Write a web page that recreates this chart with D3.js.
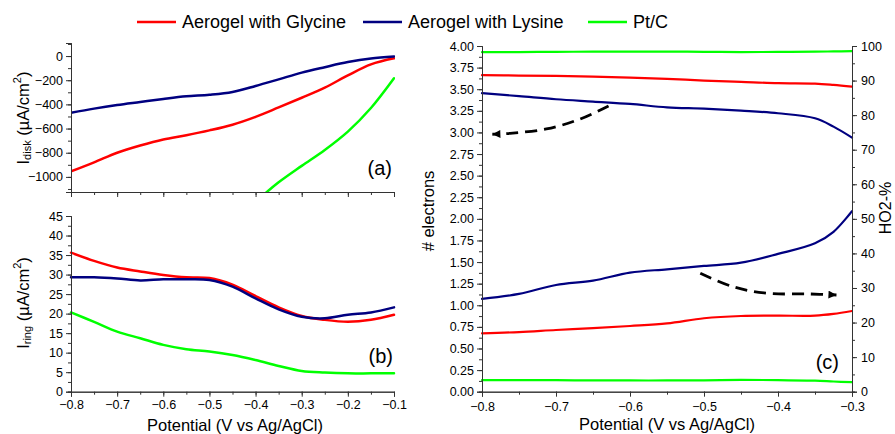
<!DOCTYPE html>
<html><head><meta charset="utf-8">
<script src="https://cdn.jsdelivr.net/npm/d3@7"></script>
<style>
html,body{margin:0;padding:0;background:#fff;}
svg text{font-family:"Liberation Sans",Arial,sans-serif;fill:#000;}
.axis path,.axis line{stroke:#333;stroke-width:1;}
.axis text{font-size:12.5px;font-family:"Liberation Sans",Arial,sans-serif;fill:#000;}
</style></head>
<body>
<svg id="chart" width="895" height="434"></svg>
<script>
// ---------- DATA ----------
const seriesNames = ["Aerogel with Glycine", "Aerogel with Lysine", "Pt/C"];
const seriesColors = ["#ff0000", "#000080", "#00ff00"];

// Panel (a): disk current (µA/cm²)
const potentialA = [-0.8,-0.75,-0.7,-0.65,-0.6,-0.55,-0.5,-0.45,-0.4,-0.35,-0.3,-0.25,-0.2,-0.15,-0.1];
const diskGlycine = [-955,-880,-800,-740,-690,-655,-615,-568,-503,-425,-345,-262,-160,-69,-19];
const diskLysine  = [-470,-435,-405,-380,-355,-333,-320,-297,-248,-193,-137,-92,-50,-20,-3];
const potentialAPt = [-0.38,-0.35,-0.3,-0.25,-0.2,-0.15,-0.1];
const diskPtC     = [-1140,-1045,-909,-777,-625,-430,-184];
const diskTicks = [0,-200,-400,-600,-800,-1000];

// Panel (b): ring current (µA/cm²)
const potentialB = [-0.8,-0.75,-0.7,-0.65,-0.6,-0.55,-0.5,-0.45,-0.4,-0.35,-0.3,-0.25,-0.2,-0.15,-0.1];
const ringGlycine = [35.6,33.5,31.8,30.8,29.9,29.3,29.1,27.4,24.5,21.6,19.4,18.4,17.9,18.4,19.7];
const ringLysine  = [29.3,29.3,29.0,28.5,28.8,28.8,28.6,26.9,23.9,21.1,19.2,18.8,19.7,20.3,21.6];
const ringPtC     = [20.3,17.9,15.4,13.7,12.0,10.9,10.3,9.4,8.1,6.6,5.3,4.9,4.7,4.7,4.7];
const ringTicks = [0,5,10,15,20,25,30,35,40,45];
const potentialTicksAB = [-0.8,-0.7,-0.6,-0.5,-0.4,-0.3,-0.2,-0.1];

// Panel (c): number of electrons (top) and HO2- % (bottom)
const potentialC = [-0.8,-0.75,-0.7,-0.65,-0.6,-0.55,-0.5,-0.45,-0.4,-0.35,-0.325,-0.3];
const nGlycine = [3.662,3.658,3.654,3.645,3.635,3.62,3.60,3.585,3.57,3.565,3.55,3.53];
const nLysine  = [3.454,3.42,3.384,3.357,3.33,3.29,3.275,3.252,3.222,3.164,3.067,2.94];
const nPtC     = [3.928,3.93,3.932,3.935,3.935,3.935,3.933,3.93,3.932,3.935,3.937,3.94];
const hGlycine = [0.676,0.69,0.714,0.735,0.76,0.79,0.85,0.876,0.88,0.88,0.9,0.934];
const hLysine  = [1.073,1.131,1.235,1.285,1.378,1.416,1.455,1.493,1.594,1.717,1.85,2.09];
const hPtC     = [0.135,0.134,0.133,0.131,0.13,0.13,0.132,0.136,0.135,0.127,0.118,0.11];
const electronTicks = [0,0.25,0.5,0.75,1,1.25,1.5,1.75,2,2.25,2.5,2.75,3,3.25,3.5,3.75,4];
const ho2Ticks = [0,10,20,30,40,50,60,70,80,90,100];
const potentialTicksC = [-0.8,-0.7,-0.6,-0.5,-0.4,-0.3];

// Dashed annotation arrows in panel (c) (data coordinates)
const arrowLeft  = [[-0.629,3.307],[-0.668,3.153],[-0.713,3.04],[-0.762,2.99],[-0.786,2.979]];
const arrowRight = [[-0.505,1.370],[-0.461,1.215],[-0.415,1.139],[-0.357,1.131],[-0.321,1.119]];

// ---------- DRAW ----------
const svg = d3.select("#chart");
const fmtDec = d3.format(".1f");
const titleSize = "16.5px";

function minorTicks(a, b, step) {
  const out = [];
  for (let v = a; v <= b + 1e-9; v += step) out.push(+v.toFixed(4));
  return out;
}

function drawLine(g, xs, ys, x, y, color, width) {
  const pts = xs.map((v, i) => [v, ys[i]]);
  g.append("path").datum(pts)
    .attr("fill", "none").attr("stroke", color).attr("stroke-width", width)
    .attr("stroke-linejoin", "round").attr("stroke-linecap", "round")
    .attr("d", d3.line().x(d => x(d[0])).y(d => y(d[1])).curve(d3.curveCatmullRom.alpha(0.5)));
}

function yLabel(g, cx, cy, sub) {
  const t = g.append("text").attr("transform", `translate(${cx},${cy}) rotate(-90)`)
    .attr("text-anchor", "middle").attr("dominant-baseline", "central").style("font-size", titleSize);
  t.append("tspan").text("I");
  t.append("tspan").attr("dy", 4).style("font-size", "11px").text(sub);
  t.append("tspan").attr("dy", -4).text(" (µA/cm");
  t.append("tspan").attr("dy", -6).style("font-size", "11px").text("2");
  t.append("tspan").attr("dy", 6).text(")");
}

// x scale for left panels
const xAB = d3.scaleLinear().domain([-0.8, -0.1]).range([71, 394]);

// ---- Panel (a)
const yA = d3.scaleLinear().domain([-1125, 108]).range([192, 43]);
const gA = svg.append("g");
gA.append("clipPath").attr("id", "clipA").append("rect")
  .attr("x", 71).attr("y", 43).attr("width", 324).attr("height", 149);
const linesA = gA.append("g").attr("clip-path", "url(#clipA)");
drawLine(linesA, potentialA, diskGlycine, xAB, yA, seriesColors[0], 2.5);
drawLine(linesA, potentialA, diskLysine, xAB, yA, seriesColors[1], 2.5);
drawLine(linesA, potentialAPt, diskPtC, xAB, yA, seriesColors[2], 2.5);

gA.append("g").attr("class", "axis").attr("transform", "translate(71,0)")
  .call(d3.axisLeft(yA).tickValues(minorTicks(-1100, 100, 100)).tickSize(3).tickFormat(""));
gA.append("g").attr("class", "axis").attr("transform", "translate(71,0)")
  .call(d3.axisLeft(yA).tickValues(diskTicks).tickSize(5).tickPadding(3).tickFormat(d3.format("d")));
gA.append("g").attr("class", "axis").attr("transform", "translate(0,192)")
  .call(d3.axisBottom(xAB).tickValues(minorTicks(-0.8, -0.1, 0.05)).tickSize(3).tickFormat(""));
gA.append("g").attr("class", "axis").attr("transform", "translate(0,192)")
  .call(d3.axisBottom(xAB).tickValues(potentialTicksAB).tickSize(5).tickFormat(""));

yLabel(gA, 23, 118, "disk");
gA.append("text").attr("x", 392).attr("y", 175).attr("text-anchor", "end")
  .style("font-size", "20px").text("(a)");

// ---- Panel (b)
const yB = d3.scaleLinear().domain([0, 45]).range([391.7, 216]);
const gB = svg.append("g");
drawLine(gB, potentialB, ringGlycine, xAB, yB, seriesColors[0], 2.5);
drawLine(gB, potentialB, ringLysine, xAB, yB, seriesColors[1], 2.5);
drawLine(gB, potentialB, ringPtC, xAB, yB, seriesColors[2], 2.5);

gB.append("g").attr("class", "axis").attr("transform", "translate(71,0)")
  .call(d3.axisLeft(yB).tickValues(minorTicks(0, 45, 2.5)).tickSize(3).tickFormat(""));
gB.append("g").attr("class", "axis").attr("transform", "translate(71,0)")
  .call(d3.axisLeft(yB).tickValues(ringTicks).tickSize(5).tickPadding(3).tickFormat(d3.format("d")));
gB.append("g").attr("class", "axis").attr("transform", "translate(0,391.7)")
  .call(d3.axisBottom(xAB).tickValues(minorTicks(-0.8, -0.1, 0.05)).tickSize(3).tickFormat(""));
gB.append("g").attr("class", "axis").attr("transform", "translate(0,391.7)")
  .call(d3.axisBottom(xAB).tickValues(potentialTicksAB).tickSize(5).tickPadding(3).tickFormat(fmtDec));

yLabel(gB, 23, 303, "ring");
gB.append("text").attr("x", 393).attr("y", 363).attr("text-anchor", "end")
  .style("font-size", "20px").text("(b)");
gB.append("text").attr("x", 235).attr("y", 425).attr("text-anchor", "middle")
  .attr("dominant-baseline", "central").style("font-size", titleSize).text("Potential (V vs Ag/AgCl)");

// ---- Panel (c)
const xC = d3.scaleLinear().domain([-0.8, -0.3]).range([482, 852]);
const yC = d3.scaleLinear().domain([0, 4]).range([391.7, 46]);
const yC2 = d3.scaleLinear().domain([0, 100]).range([391.7, 46]);
const gC = svg.append("g");
drawLine(gC, potentialC, nPtC, xC, yC, seriesColors[2], 2.2);
drawLine(gC, potentialC, nGlycine, xC, yC, seriesColors[0], 2.2);
drawLine(gC, potentialC, nLysine, xC, yC, seriesColors[1], 2.2);
drawLine(gC, potentialC, hLysine, xC, yC, seriesColors[1], 2.2);
drawLine(gC, potentialC, hGlycine, xC, yC, seriesColors[0], 2.2);
drawLine(gC, potentialC, hPtC, xC, yC, seriesColors[2], 2.2);

gC.append("g").attr("class", "axis").attr("transform", "translate(482,0)")
  .call(d3.axisLeft(yC).tickValues(minorTicks(0, 4, 0.125)).tickSize(3).tickFormat(""));
gC.append("g").attr("class", "axis").attr("transform", "translate(482,0)")
  .call(d3.axisLeft(yC).tickValues(electronTicks).tickSize(5).tickPadding(3).tickFormat(d3.format(".2f")));
gC.append("g").attr("class", "axis").attr("transform", "translate(852,0)")
  .call(d3.axisRight(yC2).tickValues(minorTicks(0, 100, 5)).tickSize(3).tickFormat(""));
gC.append("g").attr("class", "axis").attr("transform", "translate(852,0)")
  .call(d3.axisRight(yC2).tickValues(ho2Ticks).tickSize(5).tickPadding(4).tickFormat(d3.format("d")));
gC.append("g").attr("class", "axis").attr("transform", "translate(0,391.7)")
  .call(d3.axisBottom(xC).tickValues(minorTicks(-0.8, -0.3, 0.05)).tickSize(3).tickFormat(""));
gC.append("g").attr("class", "axis").attr("transform", "translate(0,391.7)")
  .call(d3.axisBottom(xC).tickValues(potentialTicksC).tickSize(5).tickPadding(5).tickFormat(fmtDec));

gC.append("text").attr("transform", "translate(428,211) rotate(-90)")
  .attr("text-anchor", "middle").attr("dominant-baseline", "central").style("font-size", titleSize).text("# electrons");
gC.append("text").attr("transform", "translate(885,208) rotate(-90)")
  .attr("text-anchor", "middle").attr("dominant-baseline", "central").style("font-size", "16px").text("HO2-%");
gC.append("text").attr("x", 667).attr("y", 424).attr("text-anchor", "middle")
  .attr("dominant-baseline", "central").style("font-size", titleSize).text("Potential (V vs Ag/AgCl)");
gC.append("text").attr("x", 839).attr("y", 369).attr("text-anchor", "end")
  .style("font-size", "20px").text("(c)");

// arrows
const defs = svg.append("defs");
defs.append("marker").attr("id", "arrowHead").attr("viewBox", "0 0 10 10")
  .attr("refX", 10).attr("refY", 5).attr("markerUnits", "userSpaceOnUse")
  .attr("markerWidth", 13).attr("markerHeight", 8).attr("orient", "auto")
  .append("path").attr("d", "M0,0 L10,5 L0,10 Z").attr("fill", "#000");
[arrowLeft, arrowRight].forEach(pts => {
  gC.append("path").datum(pts)
    .attr("fill", "none").attr("stroke", "#000").attr("stroke-width", 2.8)
    .attr("stroke-dasharray", "12,7")
    .attr("marker-end", "url(#arrowHead)")
    .attr("d", d3.line().x(d => xC(d[0])).y(d => yC(d[1])).curve(d3.curveCatmullRom.alpha(0.5)));
});

// ---- Legend
const legendX = [137, 363, 588];
const legend = svg.append("g");
seriesNames.forEach((name, i) => {
  legend.append("line").attr("x1", legendX[i]).attr("x2", legendX[i] + 39)
    .attr("y1", 22).attr("y2", 22).attr("stroke", seriesColors[i]).attr("stroke-width", 2.5);
  legend.append("text").attr("x", legendX[i] + 45).attr("y", 22)
    .attr("dominant-baseline", "central").style("font-size", "18px").text(name);
});
</script>
</body></html>
